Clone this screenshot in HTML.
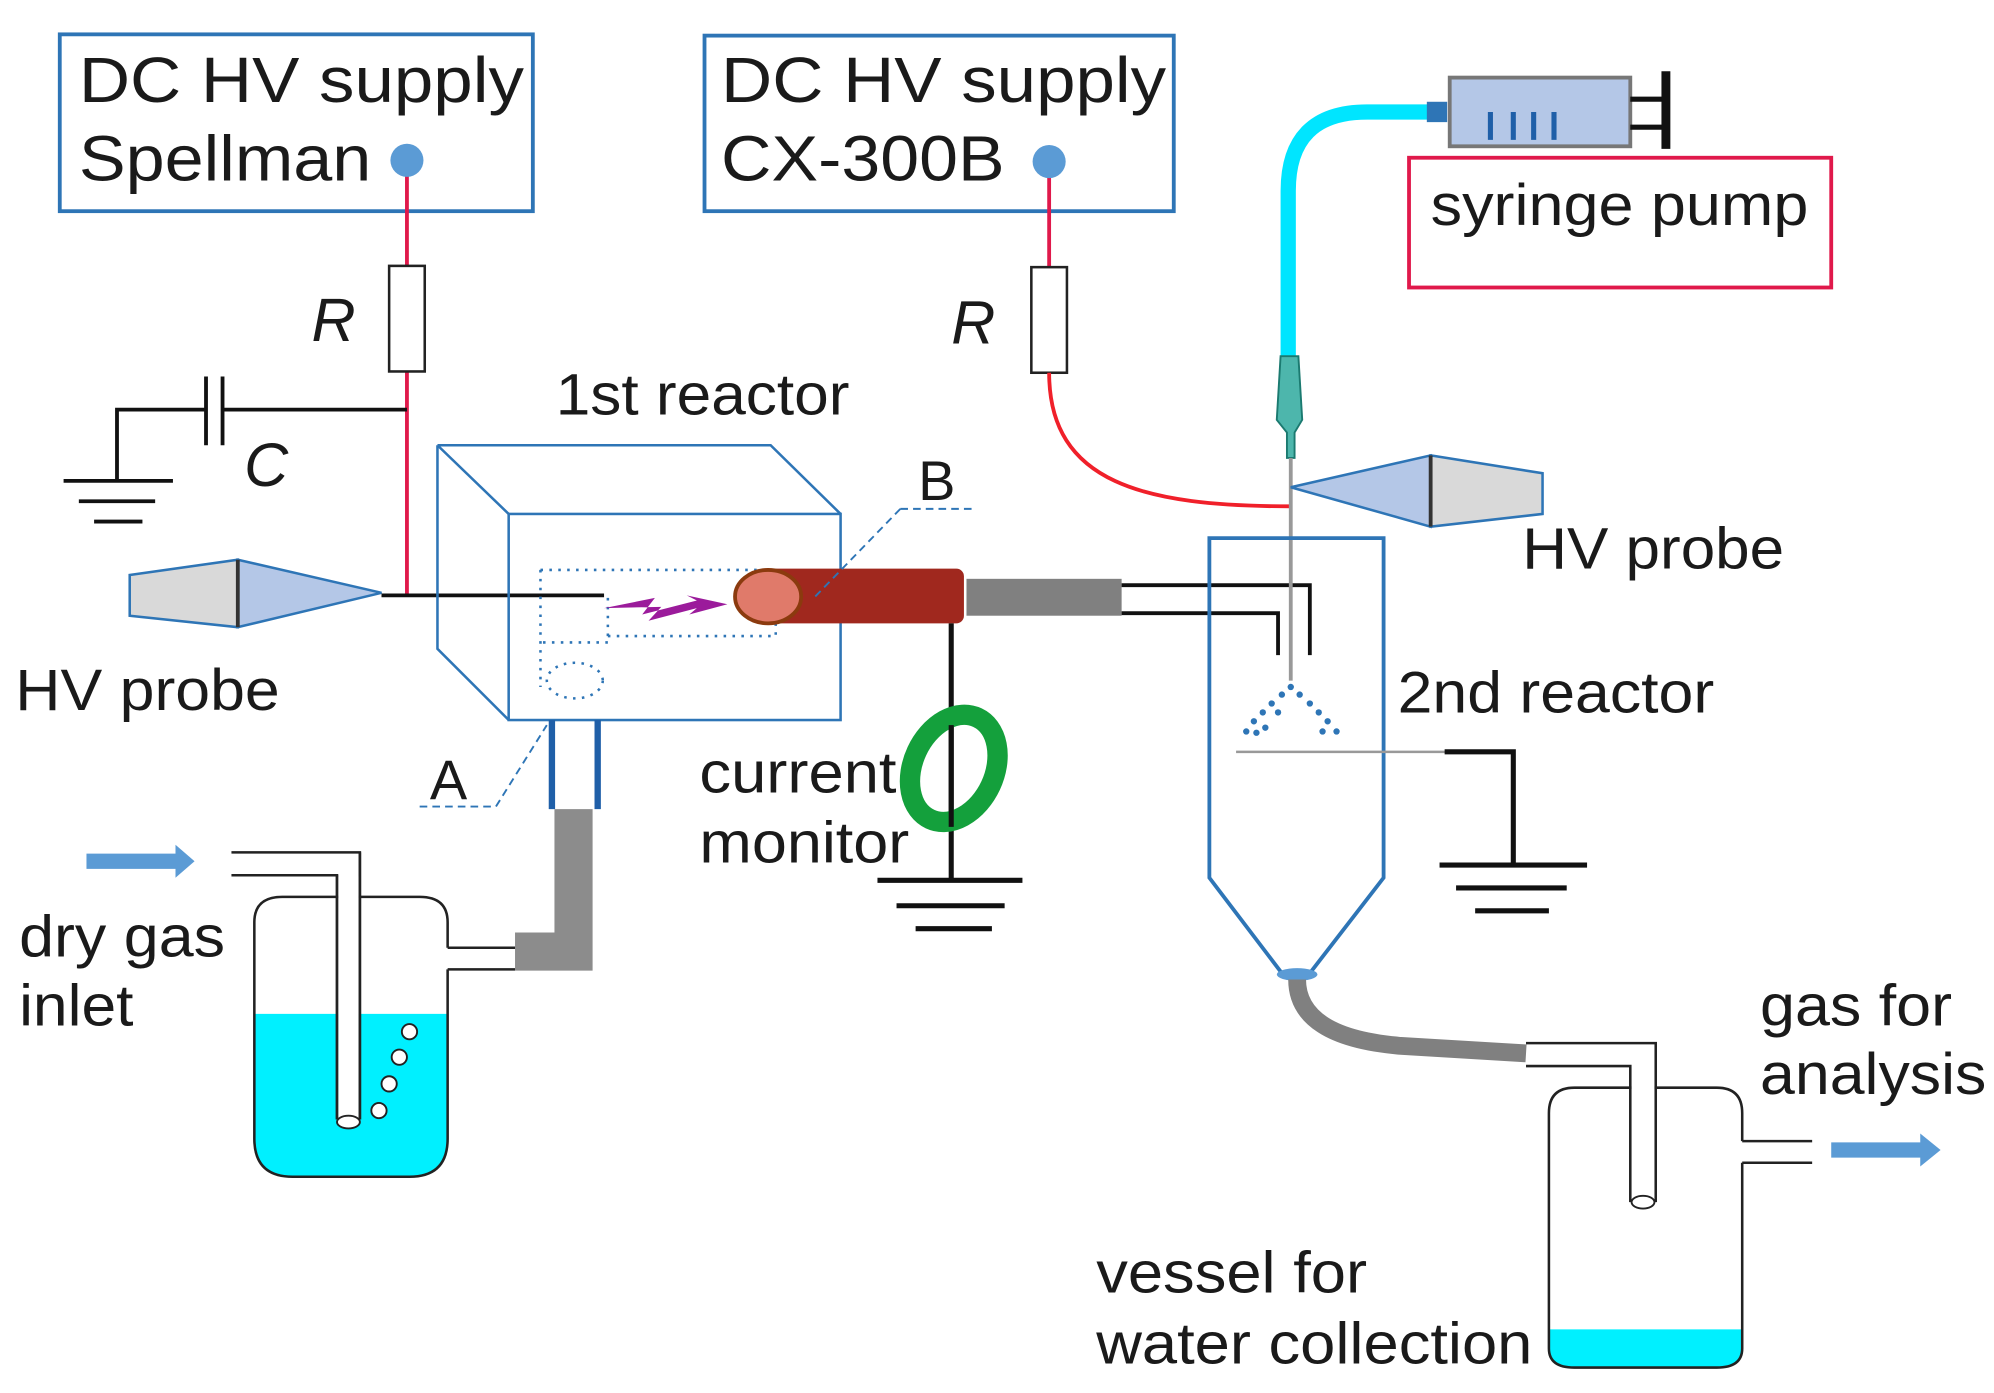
<!DOCTYPE html>
<html><head><meta charset="utf-8"><style>html,body{margin:0;padding:0;background:#fff}svg{display:block}text{font-family:"Liberation Sans",sans-serif;fill:#1a1a1a}</style></head><body>
<svg width="1994" height="1393" viewBox="0 0 1568 1095" preserveAspectRatio="none" xmlns="http://www.w3.org/2000/svg">
<!-- supplies -->
<rect x="47" y="27" width="372" height="139" fill="none" stroke="#2e75b6" stroke-width="3"/>
<text x="62" y="80" font-size="50" textLength="350" lengthAdjust="spacingAndGlyphs">DC HV supply</text>
<text x="62" y="142" font-size="50" textLength="230" lengthAdjust="spacingAndGlyphs">Spellman</text>
<rect x="554" y="28" width="369" height="138" fill="none" stroke="#2e75b6" stroke-width="3"/>
<text x="567" y="80" font-size="50" textLength="350" lengthAdjust="spacingAndGlyphs">DC HV supply</text>
<text x="567" y="142" font-size="50" textLength="223" lengthAdjust="spacingAndGlyphs">CX-300B</text>
<line x1="320" y1="128" x2="320" y2="210" stroke="#e0194b" stroke-width="3"/>
<line x1="320" y1="292" x2="320" y2="468" stroke="#e0194b" stroke-width="3"/>
<circle cx="320" cy="126" r="13" fill="#5b9bd5"/>
<rect x="306" y="209" width="28" height="83" fill="#fff" stroke="#222" stroke-width="2"/>
<text x="245" y="268" font-size="48" font-style="italic">R</text>
<line x1="825" y1="128" x2="825" y2="210" stroke="#e0194b" stroke-width="3"/>
<circle cx="825" cy="127" r="13" fill="#5b9bd5"/>
<rect x="811" y="210" width="28" height="83" fill="#fff" stroke="#222" stroke-width="2"/>
<text x="748" y="270" font-size="48" font-style="italic">R</text>
<path d="M825 293 C825 380 900 398 1015 398" fill="none" stroke="#f0202a" stroke-width="3"/>
<!-- capacitor -->
<g stroke="#111" stroke-width="3" fill="none">
<path d="M320 322 H175 M175 296 V350 M162 296 V350 M162 322 H92 V378"/>
<path d="M50 378 H136 M62 394 H122 M74 410 H112"/>
</g>
<text x="192" y="382" font-size="48" font-style="italic">C</text>
<!-- left HV probe -->
<polygon points="102,452 187,440 187,493 102,484" fill="#d9d9d9" stroke="#2e75b6" stroke-width="2"/>
<polygon points="187,440 300,466 187,493" fill="#b4c7e7" stroke="#2e75b6" stroke-width="2"/>
<line x1="187" y1="440" x2="187" y2="493" stroke="#333" stroke-width="3"/>
<text x="12" y="558" font-size="46" textLength="208" lengthAdjust="spacingAndGlyphs">HV probe</text>
<line x1="300" y1="468" x2="475" y2="468" stroke="#111" stroke-width="3"/>
<!-- cube -->
<g stroke="#2e75b6" stroke-width="2" fill="none">
<rect x="400" y="404" width="261" height="162"/>
<path d="M344 350 H606 L661 404 M344 350 L400 404 M344 350 V510 L400 566"/>
</g>
<text x="437" y="326" font-size="46" textLength="231" lengthAdjust="spacingAndGlyphs">1st reactor</text>
<path d="M425 448 H610 M425 448 V540 M478 470 V505 H425 M610 448 V500 H478" fill="none" stroke="#2e75b6" stroke-width="2" stroke-dasharray="2 5"/>
<ellipse cx="452" cy="535" rx="22" ry="14" fill="none" stroke="#2e75b6" stroke-width="2" stroke-dasharray="2 5"/>
<path d="M475 478 L515 470 L505 483 L548 472 L540 468 L572 475 L542 483 L548 478 L510 488 L520 477 Z" fill="#9b1b9b"/>
<rect x="605" y="447" width="153" height="43" rx="6" fill="#a0281e"/>
<ellipse cx="604" cy="469" rx="26" ry="21" fill="#e07a6a" stroke="#8b3a0e" stroke-width="3"/>
<rect x="760" y="455" width="122" height="29" fill="#808080"/>
<path d="M882 460 H1030 V515 M882 482 H1005 V515" fill="none" stroke="#111" stroke-width="3"/>
<path d="M708 400 H768 M708 400 L640 470" fill="none" stroke="#2e75b6" stroke-width="1.5" stroke-dasharray="6 4"/>
<text x="722" y="393" font-size="44">B</text>
<path d="M330 634 H390 L430 570" fill="none" stroke="#2e75b6" stroke-width="1.5" stroke-dasharray="6 4"/>
<text x="338" y="628" font-size="44">A</text>
<!-- current monitor -->
<g stroke="#111" stroke-width="4" fill="none">
<path d="M748 490 V692"/>
<path d="M690 692 H804 M705 712 H790 M720 730 H780"/>
</g>
<ellipse cx="750" cy="604" rx="32" ry="44" transform="rotate(25 750 604)" fill="none" stroke="#14a03c" stroke-width="16"/>
<line x1="748" y1="570" x2="748" y2="650" stroke="#111" stroke-width="4"/>
<text x="550" y="623" font-size="46" textLength="155" lengthAdjust="spacingAndGlyphs">current</text>
<text x="550" y="678" font-size="46" textLength="165" lengthAdjust="spacingAndGlyphs">monitor</text>
<!-- bubbler -->
<line x1="434" y1="566" x2="434" y2="636" stroke="#1f5fa8" stroke-width="5"/>
<line x1="470" y1="566" x2="470" y2="636" stroke="#1f5fa8" stroke-width="5"/>
<path d="M451 636 V748 H405" fill="none" stroke="#8c8c8c" stroke-width="30"/>
<path d="M200 797 H352 V895 Q352 925 322 925 H230 Q200 925 200 895 Z" fill="#00f0ff"/>
<path d="M352 745 V725 Q352 705 330 705 H222 Q200 705 200 725 V895 Q200 925 230 925 H322 Q352 925 352 895 V762" fill="none" stroke="#222" stroke-width="2"/>
<path d="M352 745 H405 M352 762 H405 M182 670 H283 V880 M182 688 H265 V880" fill="none" stroke="#222" stroke-width="2"/>
<rect x="266" y="689" width="16" height="192" fill="#fff"/>
<path d="M283 670 V880 M265 688 V880" stroke="#222" stroke-width="2"/>
<ellipse cx="274" cy="882" rx="9" ry="5" fill="#fff" stroke="#222" stroke-width="1.5"/>
<g fill="#fff" stroke="#222" stroke-width="1.5"><circle cx="322" cy="811" r="6"/><circle cx="314" cy="831" r="6"/><circle cx="306" cy="852" r="6"/><circle cx="298" cy="873" r="6"/></g>
<polygon points="68,671 138,671 138,664 153,677 138,690 138,683 68,683" fill="#5b9bd5"/>
<text x="15" y="752" font-size="46" textLength="162" lengthAdjust="spacingAndGlyphs">dry gas</text>
<text x="15" y="806" font-size="46" textLength="90" lengthAdjust="spacingAndGlyphs">inlet</text>
<!-- syringe -->
<path d="M1013 280 V150 Q1013 88 1075 88 H1130" fill="none" stroke="#00e5ff" stroke-width="12"/>
<rect x="1122" y="80" width="16" height="16" fill="#2e75b6"/>
<rect x="1140" y="61" width="142" height="54" fill="#b4c7e7" stroke="#777" stroke-width="3"/>
<g stroke="#1f5fa8" stroke-width="4"><path d="M1172 88 V110 M1190 88 V110 M1206 88 V110 M1222 88 V110"/></g>
<path d="M1282 78 H1310 M1282 100 H1310" stroke="#111" stroke-width="4"/>
<line x1="1310" y1="56" x2="1310" y2="117" stroke="#111" stroke-width="7"/>
<rect x="1108" y="124" width="332" height="102" fill="none" stroke="#e0194b" stroke-width="3"/>
<text x="1125" y="177" font-size="46" textLength="297" lengthAdjust="spacingAndGlyphs">syringe pump</text>
<path d="M1007 280 H1021 L1024 330 L1018 340 L1018 360 L1012 360 L1012 340 L1004 330 Z" fill="#4db6ac" stroke="#1b7a70" stroke-width="1.5"/>
<line x1="1015" y1="360" x2="1015" y2="535" stroke="#999" stroke-width="3"/>
<!-- right HV probe -->
<polygon points="1015,383 1125,358 1125,414" fill="#b4c7e7" stroke="#2e75b6" stroke-width="2"/>
<polygon points="1125,358 1213,372 1213,404 1125,414" fill="#d9d9d9" stroke="#2e75b6" stroke-width="2"/>
<line x1="1125" y1="358" x2="1125" y2="414" stroke="#333" stroke-width="3"/>
<text x="1197" y="447" font-size="46" textLength="206" lengthAdjust="spacingAndGlyphs">HV probe</text>
<!-- 2nd reactor -->
<path d="M951 690 V423 H1088 V690 L1030 765 H1008 Z" fill="none" stroke="#2e75b6" stroke-width="3"/>
<g fill="#2e75b6"><circle cx="1015" cy="540" r="2.5"/><circle cx="1008" cy="546" r="2.5"/><circle cx="1022" cy="546" r="2.5"/><circle cx="1000" cy="553" r="2.5"/><circle cx="1030" cy="553" r="2.5"/><circle cx="993" cy="560" r="2.5"/><circle cx="1037" cy="560" r="2.5"/><circle cx="986" cy="567" r="2.5"/><circle cx="1044" cy="567" r="2.5"/><circle cx="980" cy="575" r="2.5"/><circle cx="1051" cy="575" r="2.5"/><circle cx="995" cy="572" r="2.5"/><circle cx="1040" cy="575" r="2.5"/><circle cx="988" cy="576" r="2.5"/><circle cx="1005" cy="560" r="2.5"/></g>
<line x1="972" y1="591" x2="1190" y2="591" stroke="#999" stroke-width="2"/>
<g stroke="#111" stroke-width="4" fill="none"><path d="M1136 591 H1190 V680"/><path d="M1132 680 H1248 M1145 698 H1232 M1160 716 H1218"/></g>
<text x="1099" y="560" font-size="46" textLength="249" lengthAdjust="spacingAndGlyphs">2nd reactor</text>
<ellipse cx="1020" cy="766" rx="16" ry="5" fill="#5b9bd5"/>
<path d="M1020 770 Q1020 815 1100 822 L1200 828" fill="none" stroke="#808080" stroke-width="14"/>
<!-- vessel 2 -->
<path d="M1218 1045 H1370 V1060 Q1370 1075 1350 1075 H1238 Q1218 1075 1218 1060 Z" fill="#00f0ff"/>
<path d="M1370 897 V875 Q1370 855 1350 855 H1238 Q1218 855 1218 875 V1060 Q1218 1075 1238 1075 H1350 Q1370 1075 1370 1060 V914" fill="none" stroke="#222" stroke-width="2"/>
<rect x="1283" y="838" width="18" height="108" fill="#fff"/>
<path d="M1200 820 H1302 V945 M1200 838 H1282 V945 M1370 897 H1425 M1370 914 H1425" fill="none" stroke="#222" stroke-width="2"/>
<ellipse cx="1292" cy="945" rx="9" ry="5" fill="#fff" stroke="#222" stroke-width="1.5"/>
<polygon points="1440,898 1510,898 1510,891 1526,904 1510,917 1510,910 1440,910" fill="#5b9bd5"/>
<text x="1384" y="806" font-size="46" textLength="151" lengthAdjust="spacingAndGlyphs">gas for</text>
<text x="1384" y="860" font-size="46" textLength="178" lengthAdjust="spacingAndGlyphs">analysis</text>
<text x="862" y="1016" font-size="46" textLength="213" lengthAdjust="spacingAndGlyphs">vessel for</text>
<text x="862" y="1072" font-size="46" textLength="343" lengthAdjust="spacingAndGlyphs">water collection</text>
</svg>
</body></html>
